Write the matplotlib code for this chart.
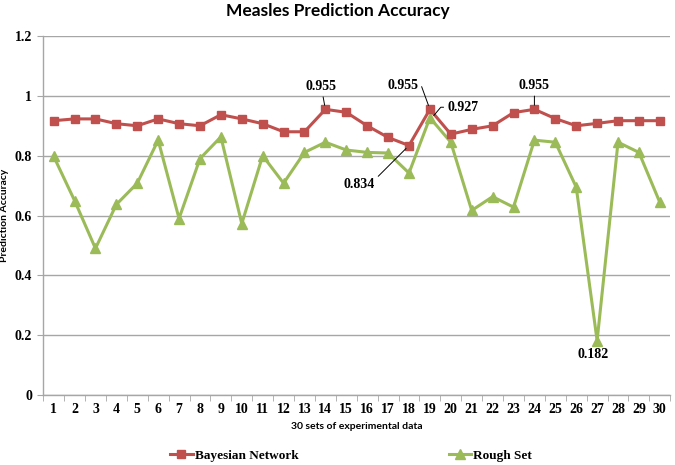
import numpy as np
import matplotlib.pyplot as plt
from matplotlib.lines import Line2D

# data
sets = list(range(1, 31))
bayesian = [0.917, 0.923, 0.923, 0.907, 0.900, 0.923, 0.907, 0.900, 0.937, 0.923,
            0.907, 0.880, 0.880, 0.955, 0.945, 0.900, 0.861, 0.834, 0.955, 0.872,
            0.888, 0.900, 0.944, 0.955, 0.924, 0.900, 0.908, 0.917, 0.917, 0.917]
rough = [0.798, 0.650, 0.490, 0.637, 0.708, 0.852, 0.590, 0.790, 0.863, 0.573,
         0.800, 0.708, 0.811, 0.845, 0.819, 0.811, 0.809, 0.742, 0.927, 0.845,
         0.617, 0.663, 0.628, 0.852, 0.845, 0.695, 0.182, 0.845, 0.811, 0.644]
y_ticks = [0, 0.2, 0.4, 0.6, 0.8, 1, 1.2]
y_tick_labels = ['0', '0.2', '0.4', '0.6', '0.8', '1', '1.2']

red = '#C0504D'
green = '#9BBB59'
grid_col = '#A6A6A6'
serif = 'Liberation Serif'
sans = 'Lato'

fig = plt.figure(figsize=(6.75, 4.65), dpi=100)
ax = fig.add_axes([0.064, 0.1505, 0.929, 0.772])

ax.plot(sets, bayesian, color=red, lw=2.2, marker='s', ms=6, mec=red, mfc=red, zorder=3)
ax.plot(sets, rough, color=green, lw=2.2, marker='^', ms=6.5, mec=green, mfc=green, zorder=2)

ax.set_xlim(0.5, 30.5)
ax.set_ylim(0, 1.2)
ax.set_yticks(y_ticks)
ax.set_yticklabels(y_tick_labels, fontfamily=serif, fontweight='bold', fontsize=10)
ax.set_xticks(sets)
ax.set_xticklabels([str(s) for s in sets], fontfamily=serif, fontweight='bold', fontsize=10)
ax.set_xticks(np.arange(0.5, 31, 1), minor=True)
ax.tick_params(axis='x', which='major', length=0, pad=6)
ax.tick_params(axis='x', which='minor', length=4, color=grid_col, direction='out')
ax.tick_params(axis='y', length=4, color=grid_col, direction='out', pad=4)

for s in ['top', 'right']:
    ax.spines[s].set_visible(False)
for s in ['left', 'bottom']:
    ax.spines[s].set_color(grid_col)
    ax.spines[s].set_linewidth(1)

ax.yaxis.grid(True, color=grid_col, lw=1)
ax.set_axisbelow(True)

fig.suptitle('Measles Prediction Accuracy', x=0.5, y=0.993, va='top',
             fontfamily=sans, fontweight='bold', fontsize=12.5)
ax.set_ylabel('Prediction Accuracy', fontfamily=sans, fontweight='bold', fontsize=7.5)
ax.yaxis.set_label_coords(-0.055, 0.5)
ax.set_xlabel('30 sets of experimental data', fontfamily=sans, fontweight='bold', fontsize=7.5, labelpad=4)

# annotations
lab = dict(fontfamily=serif, fontweight='bold', fontsize=10)
arrow = dict(arrowstyle='-', color='black', lw=0.7, shrinkA=1, shrinkB=3)
ax.annotate('0.955', xy=(14, bayesian[13]), xytext=(13.8, 1.032), ha='center', va='center',
            arrowprops=arrow, **lab)
ax.annotate('0.955', xy=(19, bayesian[18]), xytext=(17.7, 1.035), ha='center', va='center',
            arrowprops=dict(arrowstyle='-', color='black', lw=0.7, shrinkA=1, shrinkB=3,
                            connectionstyle='angle,angleA=0,angleB=-70,rad=0'), **lab)
ax.annotate('0.927', xy=(19.1, rough[18]), xytext=(20.6, 0.962), ha='center', va='center',
            arrowprops=dict(arrowstyle='-', color='black', lw=0.7, shrinkA=1, shrinkB=2,
                            connectionstyle='angle,angleA=180,angleB=50,rad=0'), **lab)
ax.annotate('0.834', xy=(18, bayesian[17]), xytext=(15.6, 0.703), ha='center', va='center',
            arrowprops=dict(arrowstyle='-', color='black', lw=0.7, shrinkA=1, shrinkB=3,
                            connectionstyle='angle,angleA=0,angleB=-135,rad=0'), **lab)
ax.annotate('0.955', xy=(24, bayesian[23]), xytext=(24, 1.035), ha='center', va='center',
            arrowprops=arrow, **lab)
ax.text(26.8, 0.134, '0.182', ha='center', va='center', **lab)

handles = [Line2D([], [], color=red, lw=2.2, marker='s', ms=6),
           Line2D([], [], color=green, lw=2.2, marker='^', ms=6.5)]
leg = fig.legend(handles, ['Bayesian Network', 'Rough Set'], loc='center',
                 bbox_to_anchor=(0.52, 0.02), ncol=2, frameon=False, columnspacing=11.4,
                 handlelength=1.7, handletextpad=0.15,
                 prop=dict(family=serif, weight='bold', size=9.5))

fig.savefig('out.png', dpi=100)
